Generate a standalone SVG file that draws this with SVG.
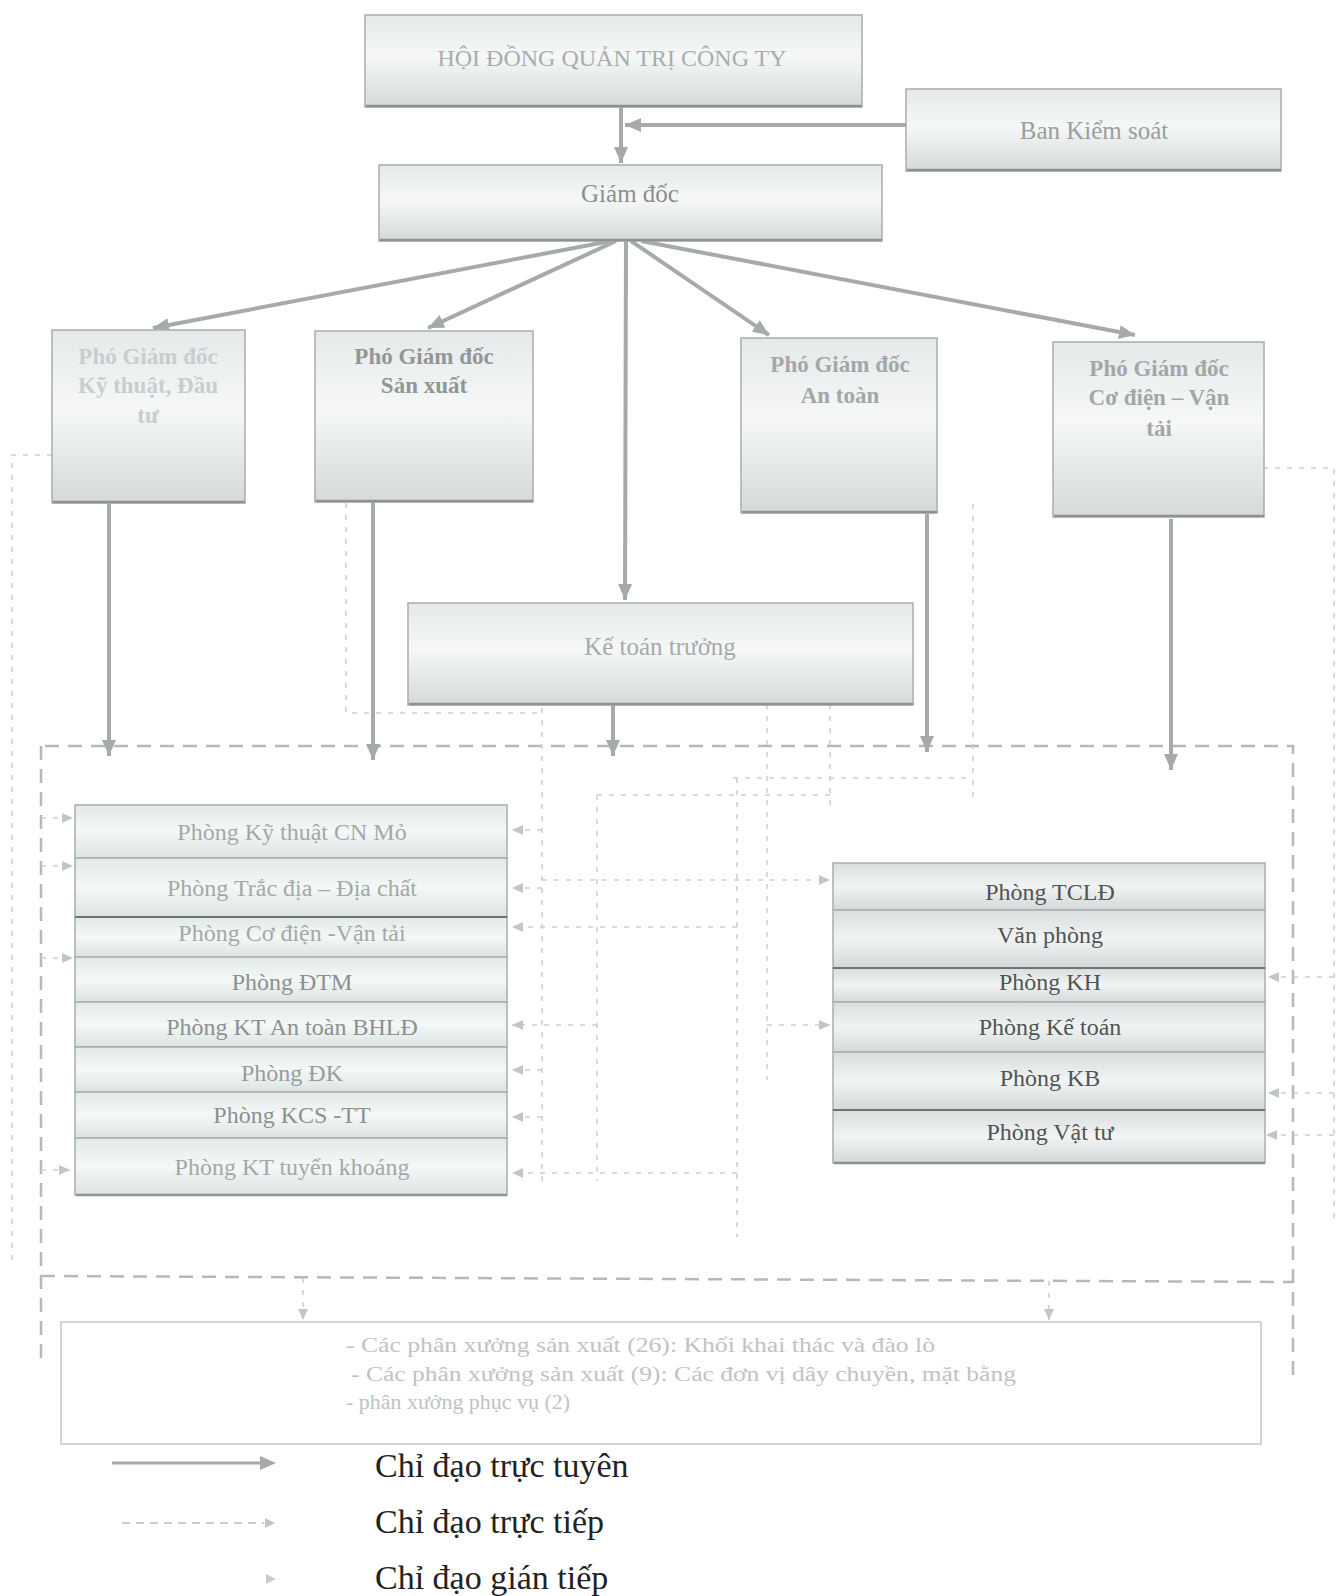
<svg xmlns="http://www.w3.org/2000/svg" width="1340" height="1596" viewBox="0 0 1340 1596">
<style>
  text { font-family: "Liberation Serif", "DejaVu Serif", serif; text-anchor: middle; }
  .box { stroke: #a9adad; stroke-width: 1.5; }
  .shadow { stroke: #8e9292; stroke-width: 2.5; fill: none; }
  .sep { stroke: #b8bcbc; stroke-width: 1.2; }
  .sepd { stroke: #6f7373; stroke-width: 2.2; }
  .t25 { font-size: 25px; }
  .t24 { font-size: 24px; }
  .pg { font-size: 23px; font-weight: bold; }
  .solid { stroke: #a6aaaa; stroke-width: 4; fill: none; marker-end: url(#mSolid); }
  .frame { stroke: #b5b9b9; stroke-width: 2.5; fill: none; stroke-dasharray: 14 9; }
  .dot { stroke: #cdd0d0; stroke-width: 1.6; fill: none; stroke-dasharray: 5 7; }
  .dota { stroke: #cdd0d0; stroke-width: 1.6; fill: none; stroke-dasharray: 5 7; marker-end: url(#mSmall); }
  .leg { font-size: 34px; fill: #222; text-anchor: start; }
</style>
<defs>
  <linearGradient id="gBox" x1="0" y1="0" x2="0" y2="1">
    <stop offset="0" stop-color="#e6e9e9"/>
    <stop offset="0.45" stop-color="#f6f8f8"/>
    <stop offset="1" stop-color="#d5d9d9"/>
  </linearGradient>
  <linearGradient id="gRowL" x1="0" y1="0" x2="0" y2="1">
    <stop offset="0" stop-color="#e1eae8"/>
    <stop offset="0.5" stop-color="#f4f8f7"/>
    <stop offset="1" stop-color="#dbe4e2"/>
  </linearGradient>
  <linearGradient id="gRowR" x1="0" y1="0" x2="0" y2="1">
    <stop offset="0" stop-color="#d9dddd"/>
    <stop offset="0.5" stop-color="#f2f4f4"/>
    <stop offset="1" stop-color="#d4d8d8"/>
  </linearGradient>
  <marker id="mSolid" markerWidth="18" markerHeight="16" refX="16" refY="8" orient="auto" markerUnits="userSpaceOnUse">
    <path d="M0,1 L16,8 L0,15 z" fill="#a6aaaa"/>
  </marker>
  <marker id="mSmall" markerWidth="12" markerHeight="12" refX="11" refY="6" orient="auto" markerUnits="userSpaceOnUse">
    <path d="M0,1 L11,6 L0,11 z" fill="#c2c6c6"/>
  </marker>
</defs>
<rect width="1340" height="1596" fill="#ffffff"/>

<!-- connectors -->
<g id="connectors">
  <!-- direct line dashed frame (Chi dao truc tiep) -->
  <path class="frame" d="M45 746 L1293 746 L1293 1380"/>
  <path class="frame" d="M41 746 L41 1365"/>
  <path class="frame" d="M41 1276 L1293 1282"/>
  <!-- outer dotted lines -->
  <path class="dot" d="M52 455 L12 455 L12 1263"/>
  <path class="dot" d="M1263 468 L1334 468 L1334 1222"/>
  <path class="dota" d="M1334 977 L1268 977"/>
  <path class="dota" d="M1334 1093 L1268 1093"/>
  <path class="dota" d="M1334 1135 L1266 1135"/>
  <!-- left side indirect arrows -->
  <path class="dota" d="M41 818 L73 818"/>
  <path class="dota" d="M41 866 L73 866"/>
  <path class="dota" d="M41 958 L73 958"/>
  <path class="dota" d="M41 1170 L70 1170"/>
  <!-- internal dotted network -->
  <path class="dot" d="M346 503 L346 713 L542 713"/>
  <path class="dot" d="M542 708 L542 1186"/>
  <path class="dot" d="M597 795 L597 1181"/>
  <path class="dot" d="M737 778 L737 1237"/>
  <path class="dot" d="M767 692 L767 1080"/>
  <path class="dot" d="M830 692 L830 810"/>
  <path class="dot" d="M973 504 L973 804"/>
  <path class="dot" d="M733 778 L973 778"/>
  <path class="dot" d="M597 795 L830 795"/>
  <path class="dota" d="M542 880 L830 880"/>
  <path class="dota" d="M767 1025 L830 1025"/>
  <path class="dota" d="M542 830 L512 830"/>
  <path class="dota" d="M542 888 L512 888"/>
  <path class="dota" d="M737 927 L512 927"/>
  <path class="dota" d="M597 1025 L512 1025"/>
  <path class="dota" d="M542 1070 L512 1070"/>
  <path class="dota" d="M542 1117 L512 1117"/>
  <path class="dota" d="M737 1173 L512 1173"/>
  <path class="dota" d="M303 1278 L303 1320"/>
  <path class="dota" d="M1049 1281 L1049 1320"/>
  <!-- solid lines (Chi dao truc tuyen) -->
  <path class="solid" d="M621 107 L621 163"/>
  <path class="solid" d="M906 125 L625 125"/>
  <path class="solid" d="M611 241 L153 328"/>
  <path class="solid" d="M616 241 L428 328"/>
  <path class="solid" d="M626 241 L625 600"/>
  <path class="solid" d="M631 241 L769 335"/>
  <path class="solid" d="M641 241 L1135 335"/>
  <path class="solid" d="M109 503 L109 756"/>
  <path class="solid" d="M373 502 L373 760"/>
  <path class="solid" d="M613 705 L613 756"/>
  <path class="solid" d="M927 514 L927 752"/>
  <path class="solid" d="M1171 519 L1171 770"/>
</g>

<!-- nodes -->
<g id="hdqt">
  <rect class="box" x="365" y="15" width="497" height="92" fill="url(#gBox)"/>
  <line class="shadow" x1="366" y1="106" x2="862" y2="106"/>
  <text class="t24" x="612" y="66" fill="#a9adad">HỘI ĐỒNG QUẢN TRỊ CÔNG TY</text>
</g>
<g id="bks">
  <rect class="box" x="906" y="89" width="375" height="82" fill="url(#gBox)"/>
  <line class="shadow" x1="907" y1="170" x2="1281" y2="170"/>
  <text class="t25" x="1094" y="139" fill="#9a9e9e">Ban Kiểm soát</text>
</g>
<g id="giamdoc">
  <rect class="box" x="379" y="165" width="503" height="76" fill="url(#gBox)"/>
  <line class="shadow" x1="380" y1="240" x2="882" y2="240"/>
  <text class="t25" x="630" y="202" fill="#8a8e8e">Giám đốc</text>
</g>
<g id="pgd-kt">
  <rect class="box" x="52" y="330" width="193" height="173" fill="url(#gBox)"/>
  <line class="shadow" x1="53" y1="502" x2="245" y2="502"/>
  <text class="pg" x="148" y="364" fill="#c9cdcd">Phó Giám đốc</text>
  <text class="pg" x="148" y="393" fill="#c9cdcd">Kỹ thuật, Đầu</text>
  <text class="pg" x="148" y="423" fill="#c9cdcd">tư</text>
</g>
<g id="pgd-sx">
  <rect class="box" x="315" y="331" width="218" height="171" fill="url(#gBox)"/>
  <line class="shadow" x1="316" y1="501" x2="533" y2="501"/>
  <text class="pg" x="424" y="364" fill="#929696">Phó Giám đốc</text>
  <text class="pg" x="424" y="393" fill="#929696">Sản xuất</text>
</g>
<g id="pgd-at">
  <rect class="box" x="741" y="338" width="196" height="175" fill="url(#gBox)"/>
  <line class="shadow" x1="742" y1="512" x2="937" y2="512"/>
  <text class="pg" x="840" y="372" fill="#a3a7a7">Phó Giám đốc</text>
  <text class="pg" x="840" y="403" fill="#a3a7a7">An toàn</text>
</g>
<g id="pgd-cd">
  <rect class="box" x="1053" y="342" width="211" height="175" fill="url(#gBox)"/>
  <line class="shadow" x1="1054" y1="516" x2="1264" y2="516"/>
  <text class="pg" x="1159" y="376" fill="#a3a7a7">Phó Giám đốc</text>
  <text class="pg" x="1159" y="405" fill="#a3a7a7">Cơ điện – Vận</text>
  <text class="pg" x="1159" y="436" fill="#a3a7a7">tải</text>
</g>
<g id="ktt">
  <rect class="box" x="408" y="603" width="505" height="102" fill="url(#gBox)"/>
  <line class="shadow" x1="409" y1="704" x2="913" y2="704"/>
  <text class="t25" x="660" y="655" fill="#a6aaaa">Kế toán trưởng</text>
</g>

<g id="phong-trai">
  <rect class="box" x="75" y="805" width="432" height="53" fill="url(#gRowL)"/>
  <rect class="box" x="75" y="858" width="432" height="59" fill="url(#gRowL)"/>
  <rect class="box" x="75" y="917" width="432" height="40" fill="url(#gRowL)"/>
  <rect class="box" x="75" y="957" width="432" height="45" fill="url(#gRowL)"/>
  <rect class="box" x="75" y="1002" width="432" height="45" fill="url(#gRowL)"/>
  <rect class="box" x="75" y="1047" width="432" height="45" fill="url(#gRowL)"/>
  <rect class="box" x="75" y="1092" width="432" height="46" fill="url(#gRowL)"/>
  <rect class="box" x="75" y="1138" width="432" height="57" fill="url(#gRowL)"/>
  <line class="sepd" x1="75" y1="917" x2="507" y2="917"/>
  <line class="shadow" x1="76" y1="1195" x2="507" y2="1195"/>
  <text class="t24" x="292" y="840" fill="#a4a8a8">Phòng Kỹ thuật CN Mỏ</text>
  <text class="t24" x="292" y="896" fill="#a4a8a8">Phòng Trắc địa – Địa chất</text>
  <text class="t24" x="292" y="941" fill="#a4a8a8">Phòng Cơ điện -Vận tải</text>
  <text class="t24" x="292" y="990" fill="#8c9090">Phòng ĐTM</text>
  <text class="t24" x="292" y="1035" fill="#8c9090">Phòng KT An toàn BHLĐ</text>
  <text class="t24" x="292" y="1081" fill="#989c9c">Phòng ĐK</text>
  <text class="t24" x="292" y="1123" fill="#8c9090">Phòng KCS -TT</text>
  <text class="t24" x="292" y="1175" fill="#a4a8a8">Phòng KT tuyển khoáng</text>
</g>

<g id="phong-phai">
  <rect class="box" x="833" y="863" width="432" height="47" fill="url(#gRowR)"/>
  <rect class="box" x="833" y="910" width="432" height="58" fill="url(#gRowR)"/>
  <rect class="box" x="833" y="968" width="432" height="34" fill="url(#gRowR)"/>
  <rect class="box" x="833" y="1002" width="432" height="50" fill="url(#gRowR)"/>
  <rect class="box" x="833" y="1052" width="432" height="58" fill="url(#gRowR)"/>
  <rect class="box" x="833" y="1110" width="432" height="53" fill="url(#gRowR)"/>
  <line class="sepd" x1="833" y1="968" x2="1265" y2="968"/>
  <line class="sepd" x1="833" y1="1110" x2="1265" y2="1110"/>
  <line class="shadow" x1="834" y1="1163" x2="1265" y2="1163"/>
  <text class="t24" x="1050" y="900" fill="#505454">Phòng TCLĐ</text>
  <text class="t24" x="1050" y="943" fill="#505454">Văn phòng</text>
  <text class="t24" x="1050" y="990" fill="#505454">Phòng KH</text>
  <text class="t24" x="1050" y="1035" fill="#505454">Phòng Kế toán</text>
  <text class="t24" x="1050" y="1086" fill="#505454">Phòng KB</text>
  <text class="t24" x="1050" y="1140" fill="#505454">Phòng Vật tư</text>
</g>

<g id="phan-xuong">
  <rect x="61" y="1322" width="1200" height="122" fill="#ffffff" stroke="#c6caca" stroke-width="1.5"/>
  <text x="346" y="1352" font-size="20" fill="#bfc3c3" style="text-anchor:start" textLength="589" lengthAdjust="spacingAndGlyphs">- Các phân xưởng sản xuất (26): Khối khai thác và đào lò</text>
  <text x="351" y="1381" font-size="20" fill="#bfc3c3" style="text-anchor:start" textLength="665" lengthAdjust="spacingAndGlyphs">- Các phân xưởng sản xuất (9): Các đơn vị dây chuyền, mặt bằng</text>
  <text x="346" y="1409" font-size="20" fill="#bfc3c3" style="text-anchor:start" textLength="224" lengthAdjust="spacingAndGlyphs">- phân xưởng phục vụ (2)</text>
</g>

<g id="legend">
  <line x1="112" y1="1463" x2="262" y2="1463" stroke="#a6aaaa" stroke-width="3"/>
  <path d="M260 1456 L276 1463 L260 1470 z" fill="#a6aaaa"/>
  <line x1="122" y1="1523" x2="264" y2="1523" stroke="#c8cbcb" stroke-width="2" stroke-dasharray="8 6"/>
  <path d="M265 1518 L275 1523 L265 1528 z" fill="#c2c6c6"/>
  <path d="M266 1574 L276 1579 L266 1584 z" fill="#c8cccc"/>
  <text class="leg" x="375" y="1477">Chỉ đạo trực tuyên</text>
  <text class="leg" x="375" y="1533">Chỉ đạo trực tiếp</text>
  <text class="leg" x="375" y="1589">Chỉ đạo gián tiếp</text>
</g>
</svg>
